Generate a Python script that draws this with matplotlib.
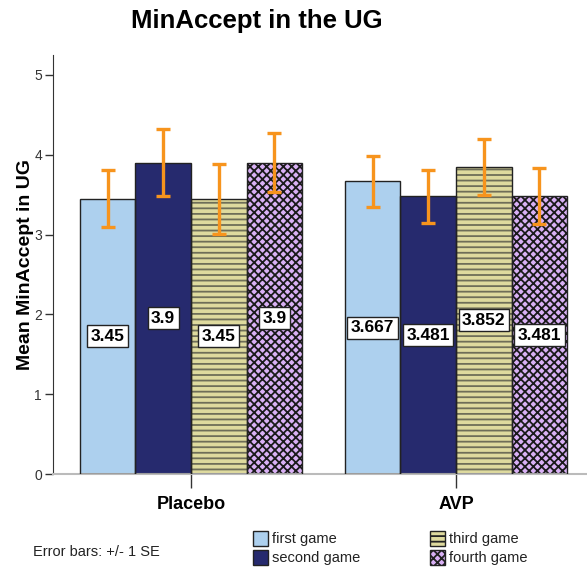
import matplotlib
matplotlib.use("Agg")
import matplotlib.pyplot as plt
import numpy as np
from matplotlib.patches import Patch

plt.rcParams['font.family'] = ['Liberation Sans', 'DejaVu Sans']
plt.rcParams['hatch.linewidth'] = 1.3

groups = ["Placebo", "AVP"]
series = ["first game", "second game", "third game", "fourth game"]
means = {
    "first game": [3.45, 3.667],
    "second game": [3.9, 3.481],
    "third game": [3.45, 3.852],
    "fourth game": [3.9, 3.481],
}
labels = {
    "first game": ["3.45", "3.667"],
    "second game": ["3.9", "3.481"],
    "third game": ["3.45", "3.852"],
    "fourth game": ["3.9", "3.481"],
}
se = {
    "first game": [0.36, 0.32],
    "second game": [0.42, 0.33],
    "third game": [0.44, 0.35],
    "fourth game": [0.37, 0.35],
}

styles = {
    "first game": dict(facecolor="#ADD0EE", hatch=None, hcolor="#333333"),
    "second game": dict(facecolor="#262A6E", hatch=None, hcolor="#333333"),
    "third game": dict(facecolor="#DEDA9E", hatch="---", hcolor="#6E6E58"),
    "fourth game": dict(facecolor="#D9B0F5", hatch="xxxx", hcolor="#1A1A1A"),
}

fig = plt.figure(figsize=(5.87, 5.71), dpi=100)
ax = fig.add_axes([53/587, (571-474)/571, (586-53)/587, (474-55)/571])

w = 0.21
x = np.arange(len(groups))
for i, s in enumerate(series):
    pos = x + (i - 1.5) * w
    st = styles[s]
    ax.bar(pos, means[s], width=w, facecolor=st["facecolor"],
           edgecolor=st["hcolor"], linewidth=0, hatch=st["hatch"], zorder=2)
    ax.bar(pos, means[s], width=w, facecolor="none", edgecolor="#222222",
           linewidth=1.0, zorder=3)
    ax.errorbar(pos, means[s], yerr=se[s], fmt="none", ecolor="#F7941D",
                elinewidth=2.4, capsize=5, capthick=2.4, zorder=4)
    for p, m, lab in zip(pos, means[s], labels[s]):
        ax.text(p, m / 2, lab, ha="center", va="center", fontsize=12.5,
                fontweight="bold", zorder=5,
                bbox=dict(boxstyle="square,pad=0.2", facecolor="white",
                          edgecolor="#222222", linewidth=1.0))

ax.set_ylim(0, 5.25)
ax.set_xlim((53 - 191) / 265, (586 - 191) / 265)
ax.set_yticks([0, 1, 2, 3, 4, 5])
ax.set_yticklabels(["0", "1", "2", "3", "4", "5"], fontsize=10, color="#333333")
ax.set_xticks(x)
ax.set_xticklabels(groups, fontsize=13, fontweight="bold")
ax.tick_params(axis="x", length=10, width=1, color="#333333", direction="out", pad=6)
ax.tick_params(axis="y", length=6, width=1, color="#333333", pad=2)
ax.set_ylabel("Mean MinAccept in UG", fontsize=14, fontweight="bold", labelpad=0)
for sp in ["top", "right"]:
    ax.spines[sp].set_visible(False)
ax.spines["left"].set_color("#333333")
ax.spines["bottom"].set_color("#BBBBBB")
ax.spines["bottom"].set_linewidth(1.5)

fig.text(257/587, 1 - 21/571, "MinAccept in the UG", ha="center", va="center",
         fontsize=18.5, fontweight="bold")
fig.text(33/587, 1 - 552/571, "Error bars: +/- 1 SE", ha="left", va="center",
         fontsize=10.5, color="#222222")

handles = []
for s in series:
    st = styles[s]
    handles.append(Patch(facecolor=st["facecolor"], edgecolor="#222222",
                         hatch=st["hatch"], linewidth=1.0))
leg = fig.legend(handles, series, loc="center left", ncol=2,
                 bbox_to_anchor=(240/587, 1 - 548/571), frameon=False,
                 fontsize=10.5, handlelength=1.0, handleheight=1.2,
                 handletextpad=0.3, columnspacing=4.8, labelspacing=0.25)
for t in leg.get_texts():
    t.set_color("#222222")

fig.savefig("out.png", dpi=100)
